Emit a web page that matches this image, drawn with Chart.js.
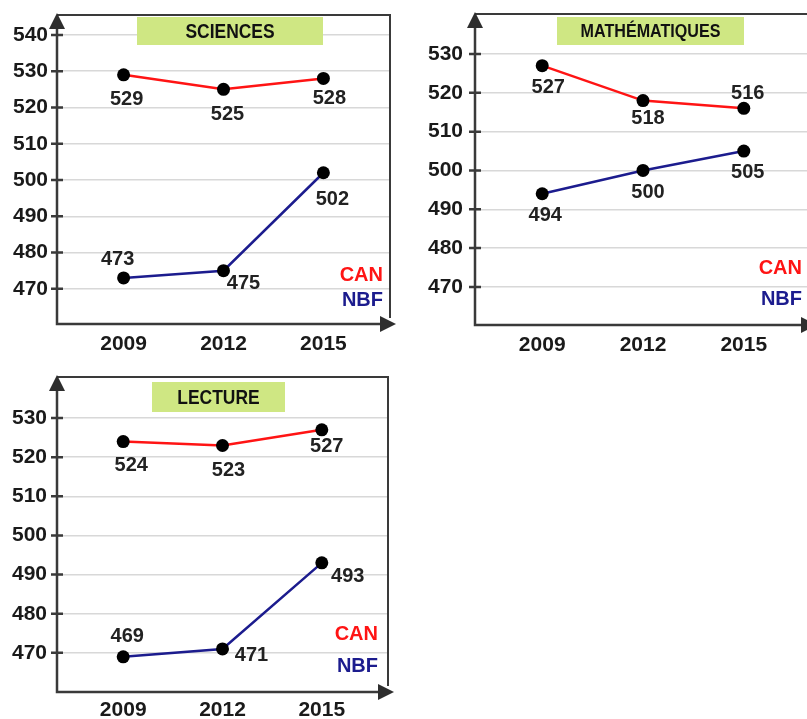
<!DOCTYPE html>
<html>
<head>
<meta charset="utf-8">
<script src="https://cdn.jsdelivr.net/npm/chart.js@4/dist/chart.umd.min.js"></script>
<style>
  html, body { margin: 0; padding: 0; background: #fff; overflow: hidden; width: 807px; height: 719px; }
  .bloc { position: absolute; }
</style>
</head>
<body>
<div class="bloc" style="left:0;top:0;width:400px;height:360px"><canvas id="graphique-sciences"></canvas></div>
<div class="bloc" style="left:400px;top:0;width:420px;height:360px"><canvas id="graphique-maths"></canvas></div>
<div class="bloc" style="left:0;top:360px;width:400px;height:359px"><canvas id="graphique-lecture"></canvas></div>
<script>
// donnees
const annees = [2009, 2012, 2015];
const sciencesCAN = [529, 525, 528];
const sciencesNBF = [473, 475, 502];
const mathsCAN = [527, 518, 516];
const mathsNBF = [494, 500, 505];
const lectureCAN = [524, 523, 527];
const lectureNBF = [469, 471, 493];
const ticksSciences = [470, 480, 490, 500, 510, 520, 530, 540];
const ticksMaths = [470, 480, 490, 500, 510, 520, 530];
const ticksLecture = [470, 480, 490, 500, 510, 520, 530];

const POLICE = '"Liberation Sans", Arial, sans-serif';
const ROUGE = "#ff1414";
const BLEU = "#1c1c8e";

// plugin pour le cadre, les fleches, le titre et les etiquettes
const decor = {
  id: "decor",
  beforeDatasetsDraw(chart, args, o) {
    const { ctx, chartArea: a } = chart;
    const echelleY = chart.scales.y;
    ctx.save();
    // boite du titre
    const [bx, by, bw, bh] = o.boite;
    ctx.fillStyle = "#cfe783";
    ctx.fillRect(a.left + bx, a.top + by, bw, bh);
    ctx.save();
    ctx.translate(a.left + bx + bw / 2, a.top + by + bh / 2 + 1);
    ctx.scale(o.serrage, 1);
    ctx.font = "bold " + o.tailleTitre + "px " + POLICE;
    ctx.fillStyle = "#111";
    ctx.textAlign = "center";
    ctx.textBaseline = "middle";
    ctx.fillText(o.titre, 0, 0);
    ctx.restore();

    // cadre
    ctx.strokeStyle = "#3a3a3a";
    ctx.lineWidth = 2;
    ctx.beginPath();
    ctx.moveTo(a.left, a.top);
    ctx.lineTo(a.right, a.top);
    ctx.lineTo(a.right, a.bottom - 6);
    ctx.stroke();
    ctx.lineWidth = 2.5;
    ctx.beginPath();
    ctx.moveTo(a.left, a.top + 4);
    ctx.lineTo(a.left, a.bottom);
    ctx.lineTo(a.right - 4, a.bottom);
    // petits traits des graduations
    for (const t of echelleY.ticks) {
      const py = echelleY.getPixelForValue(t.value);
      ctx.moveTo(a.left - 6, py);
      ctx.lineTo(a.left + 6, py);
    }
    ctx.stroke();
    // fleches
    ctx.fillStyle = "#2e2e2e";
    ctx.beginPath();
    ctx.moveTo(a.left, a.top - 2);
    ctx.lineTo(a.left - 8, a.top + 14);
    ctx.lineTo(a.left + 8, a.top + 14);
    ctx.closePath();
    ctx.fill();
    ctx.beginPath();
    ctx.moveTo(a.right + 6, a.bottom);
    ctx.lineTo(a.right - 10, a.bottom - 8);
    ctx.lineTo(a.right - 10, a.bottom + 8);
    ctx.closePath();
    ctx.fill();
    ctx.restore();
  },
  afterDatasetsDraw(chart, args, o) {
    const { ctx, chartArea: a } = chart;
    ctx.save();
    ctx.font = "bold 20px " + POLICE;
    ctx.fillStyle = "#222";
    ctx.textAlign = "center";
    ctx.textBaseline = "middle";
    chart.data.datasets.forEach((ds, d) => {
      const meta = chart.getDatasetMeta(d);
      meta.data.forEach((pt, i) => {
        const [dx, dy] = o.decalages[d][i];
        ctx.fillText(String(ds.data[i].y), pt.x + dx, pt.y + dy);
      });
    });
    // legende CAN / NBF
    ctx.font = "bold 20px " + POLICE;
    ctx.textAlign = "right";
    ctx.fillStyle = ROUGE;
    ctx.fillText("CAN", a.right - o.legende[0], a.bottom + o.legende[1]);
    ctx.fillStyle = BLEU;
    ctx.fillText("NBF", a.right - o.legende[0], a.bottom + o.legende[2]);
    ctx.restore();
  },
};

// enleve le rembourrage automatique des axes
function sansRembourrage(s) {
  s.paddingTop = 0;
  s.paddingBottom = 0;
  s.paddingLeft = 0;
  s.paddingRight = 0;
}

function creerGraphique(id, titre, valeursCAN, valeursNBF, ticksY, mise) {
  const points = (vals) => annees.map((an, i) => ({ x: an, y: vals[i] }));
  const serie = (vals, couleur) => ({
    data: points(vals),
    borderColor: couleur,
    borderWidth: 2.5,
    pointRadius: 6.5,
    pointBackgroundColor: "#000",
    pointBorderWidth: 0,
    tension: 0,
  });
  return new Chart(document.getElementById(id), {
    type: "line",
    data: { datasets: [serie(valeursCAN, ROUGE), serie(valeursNBF, BLEU)] },
    options: {
      animation: false,
      responsive: true,
      maintainAspectRatio: false,
      layout: { padding: { top: mise.haut, right: mise.droite, left: 0, bottom: 0 } },
      plugins: {
        legend: { display: false },
        tooltip: { enabled: false },
        decor: {
          titre: titre,
          boite: mise.boite,
          tailleTitre: mise.tailleTitre,
          serrage: mise.serrage,
          decalages: mise.decalages,
          legende: mise.legende,
        },
      },
      scales: {
        x: {
          type: "linear",
          min: 2007,
          max: 2017,
          afterBuildTicks: (s) => { s.ticks = annees.map((v) => ({ value: v })); },
          afterFit: (s) => { s.height = mise.basX; sansRembourrage(s); },
          grid: { display: false },
          border: { display: false },
          ticks: {
            padding: mise.padX,
            color: "#1a1a1a",
            font: { family: POLICE, size: 21, weight: "bold" },
            callback: (v) => String(v),
          },
        },
        y: {
          type: "linear",
          min: mise.yMin,
          max: mise.yMax,
          afterBuildTicks: (s) => { s.ticks = ticksY.map((v) => ({ value: v })); },
          afterFit: (s) => { s.width = mise.largeurY; sansRembourrage(s); },
          grid: { color: "#d8d8d8", lineWidth: 1.5, drawTicks: false },
          border: { display: false },
          ticks: {
            padding: mise.padY,
            color: "#1a1a1a",
            font: { family: POLICE, size: 21, weight: "bold" },
          },
        },
      },
    },
    plugins: [decor],
  });
}

creerGraphique("graphique-sciences", "SCIENCES", sciencesCAN, sciencesNBF, ticksSciences, {
  yMin: 460.3, yMax: 545.5, haut: 15, droite: 10, largeurY: 57, basX: 36, padX: 0, padY: 9,
  boite: [80, 2, 186, 28], tailleTitre: 21, serrage: 0.83,
  decalages: [[[3, 25], [4, 25], [6, 20]], [[-6, -18], [20, 13], [9, 27]]],
  legende: [7, -49, -24],
});

creerGraphique("graphique-maths", "MATHÉMATIQUES", mathsCAN, mathsNBF, ticksMaths, {
  yMin: 460.2, yMax: 540.3, haut: 14, droite: 9, largeurY: 75, basX: 35, padX: 0, padY: 12,
  boite: [82, 3, 187, 28], tailleTitre: 17.5, serrage: 0.92,
  decalages: [[[6, 22], [5, 18], [4, -15]], [[3, 22], [5, 22], [4, 21]]],
  legende: [9, -57, -26],
});

creerGraphique("graphique-lecture", "LECTURE", lectureCAN, lectureNBF, ticksLecture, {
  yMin: 460, yMax: 540.5, haut: 17, droite: 12, largeurY: 57, basX: 27, padX: -2, padY: 10,
  boite: [95, 5, 133, 30], tailleTitre: 21, serrage: 0.83,
  decalages: [[[8, 24], [6, 25], [5, 17]], [[4, -20], [29, 7], [26, 14]]],
  legende: [10, -58, -26],
});
</script>
</body>
</html>
